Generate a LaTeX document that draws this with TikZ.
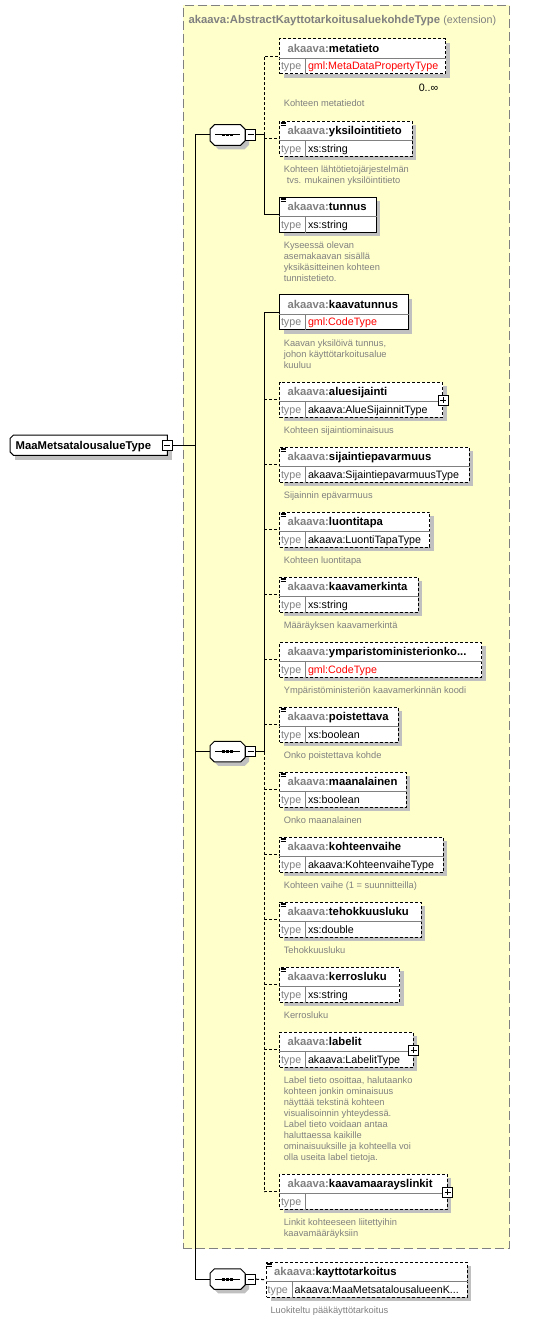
\documentclass[tikz,border=0pt]{standalone}
\usepackage{fontspec}
\setmainfont{Liberation Sans}
\usetikzlibrary{calc}

\definecolor{extyellow}{RGB}{255, 255, 204}
\definecolor{extgray}{RGB}{128, 128, 128}
\definecolor{nsgray}{RGB}{128, 128, 128}
\definecolor{descgray}{RGB}{128, 128, 128}
\definecolor{divgray}{RGB}{128, 128, 128}
\definecolor{shadowgray}{RGB}{192, 192, 192}
\definecolor{typered}{RGB}{255, 0, 0}

\tikzset{
  optbox/.style={rectangle, draw=black, fill=white, line width=1pt, dash pattern=on 3pt off 2pt, minimum height=35, inner sep=0pt, anchor=north west},
  reqbox/.style={optbox, solid},
  divline/.style={draw=divgray, line width=1pt},
  nametext/.style={anchor=base west, inner sep=0pt, font={\fontsize{11.3}{13}\selectfont\bfseries}},
  typetext/.style={anchor=base west, inner sep=0pt, font={\fontsize{10.7}{12.5}\selectfont}},
  desctext/.style={anchor=north west, inner sep=0pt, align=left, text=descgray, font={\fontsize{9.3}{11.05}\selectfont}},
  signbox/.style={rectangle, draw=black, fill=white, line width=1pt, minimum size=10, inner sep=0pt},
  signline/.style={line width=1pt},
  seqbox/.style={rectangle, minimum width=35, minimum height=20.5, inner sep=0pt},
  outline/.style={fill=white, draw=black, line width=1pt},
  mainbox/.style={rectangle, minimum width=157, minimum height=20, inner sep=0pt, anchor=north west},
  extbox/.style={rectangle, draw=extgray, fill=extyellow, line width=1pt, dash pattern=on 9pt off 4pt, inner sep=0pt, anchor=north west},
  reqline/.style={draw=black, line width=1pt},
  optline/.style={reqline, dash pattern=on 3pt off 2pt},
  iconline/.style={line width=0.7pt}
}

% element box: name, opt/req, top left, width, element, type
\newcommand{\elembox}[6]{%
  \fill[shadowgray] ($#3+(4.5,4.5)$) rectangle ($#3+(#4+4.5,39.5)$);
  \node[#2box, minimum width=#4] (#1) at #3 {};
  \draw[divline] ($(#1.north west)+(0,20)$) -- ($(#1.north east)+(0,20)$);
  \draw[divline] ($(#1.north west)+(26.5,20)$) -- ($(#1.south west)+(26.5,0)$);
  \node[nametext] (#1-name) at ($(#1.north west)+(8,14)$) {\textcolor{nsgray}{akaava:}#5};
  \node[typetext, text=nsgray] (#1-tlab) at ($(#1.north west)+(1.5,31.3)$) {type};
  \node[typetext] (#1-type) at ($(#1.north west)+(28.5,31.3)$) {#6};
}
% description under a box
\newcommand{\elemdesc}[3][7]{%
  \node[desctext] (#2-desc) at ($(#2.south west)+(4.3,#1)$) {\rule{0pt}{8.6pt}#3};
}
% simple content mark
\newcommand{\simpleicon}[1]{%
  \draw[iconline] ($(#1.north west)+(1.2,1.2)$) -- +(5,0);
  \draw[iconline] ($(#1.north west)+(1.2,2.8)$) -- +(5,0);
  \draw[iconline] ($(#1.north west)+(1.2,4.4)$) -- +(5,0);
}
% expand sign on the right edge
\newcommand{\plussign}[1]{%
  \node[signbox] (#1-plus) at ($(#1.east)+(0,0.5)$) {};
  \draw[signline] ($(#1-plus.center)+(-3,0)$) -- ($(#1-plus.center)+(3,0)$);
  \draw[signline] ($(#1-plus.center)+(0,-3)$) -- ($(#1-plus.center)+(0,3)$);
}
% sequence compositor
\newcommand{\seqsym}[2]{%
  \fill[shadowgray] ($#2+(4,4)$) +(-13.2,-10.25) -- +(13.2,-10.25) -- +(17.5,-5.95) -- +(17.5,5.95)
    -- +(13.2,10.25) -- +(-13.2,10.25) -- +(-17.5,5.95) -- +(-17.5,-5.95) -- cycle;
  \filldraw[outline] #2 +(-13.2,-10.25) -- +(13.2,-10.25) -- +(17.5,-5.95) -- +(17.5,5.95)
    -- +(13.2,10.25) -- +(-13.2,10.25) -- +(-17.5,5.95) -- +(-17.5,-5.95) -- cycle;
  \node[seqbox] (#1) at #2 {};
  \draw[signline] ($(#1.center)+(-12.5,0)$) -- ($(#1.center)+(12.5,0)$);
  \fill ($(#1.center)+(-5.2,-1.3)$) rectangle +(2.6,2.6);
  \fill ($(#1.center)+(-1.3,-1.3)$) rectangle +(2.6,2.6);
  \fill ($(#1.center)+(2.6,-1.3)$) rectangle +(2.6,2.6);
  \node[signbox, anchor=west] (#1-m) at (#1.east) {};
  \draw[signline] ($(#1-m.center)+(-3,0)$) -- ($(#1-m.center)+(3,0)$);
}

\begin{document}
\begin{tikzpicture}[x=1pt, y=-1pt]
  \useasboundingbox (0,0) rectangle (552,1319);
  \fill[white] (0,0) rectangle (552,1319);

  % Extension frame
  \node[extbox, minimum width=326.3, minimum height=1243.3] (ext) at (182.7,5) {};
  \node[nametext, text=nsgray] (ext-title) at (188.3,24) {akaava:AbstractKayttotarkoitusaluekohdeType {\mdseries\fontsize{10.7}{12.5}\selectfont(extension)}};

  % Complex type
  \fill[shadowgray] (14.5,439.5) rectangle (171.5,459.5);
  \node[mainbox] (maintype) at (10,435) {};
  \filldraw[outline] ($(maintype.north west)+(3.5,0)$) -- (maintype.north east) -- (maintype.south east)
    -- ($(maintype.south west)+(3.5,0)$) -- ($(maintype.south west)+(0,-3.5)$) -- ($(maintype.north west)+(0,3.5)$) -- cycle;
  \node[nametext] (maintype-name) at ($(maintype.north west)+(5.5,14)$) {MaaMetsatalousalueType};
  \node[signbox] (maintype-m) at (maintype.east) {};
  \draw[signline] ($(maintype-m.center)+(-3,0)$) -- ($(maintype-m.center)+(3,0)$);

  % Sequences
  \seqsym{seqA}{(227.5,135)}
  \seqsym{seqB}{(227.5,751.7)}
  \seqsym{seqC}{(227.5,1279.2)}

  % First sequence
  \elembox{metatieto}{opt}{(279.3,38.3)}{165.7}{metatieto}{\textcolor{typered}{gml:MetaDataPropertyType}}
  \node[typetext, anchor=base east] (metatieto-mult) at (438.5,91.5) {0..∞};
  \elemdesc[23.8]{metatieto}{Kohteen metatiedot}

  \elembox{yksilointitieto}{opt}{(279.3,120.7)}{132.4}{yksilointitieto}{xs:string}
  \simpleicon{yksilointitieto}
  \elemdesc{yksilointitieto}{Kohteen lähtötietojärjestelmän\\\hspace*{3pt}tvs. mukainen yksilöintitieto}

  \elembox{tunnus}{req}{(279.3,196.7)}{96.4}{tunnus}{xs:string}
  \simpleicon{tunnus}
  \elemdesc{tunnus}{Kyseessä olevan\\asemakaavan sisällä\\yksikäsitteinen kohteen\\tunnistetieto.}

  % Second sequence
  \elembox{kaavatunnus}{req}{(279.3,294.3)}{128.5}{kaavatunnus}{\textcolor{typered}{gml:CodeType}}
  \elemdesc{kaavatunnus}{Kaavan yksilöivä tunnus,\\johon käyttötarkoitusalue\\kuuluu}

  \elembox{aluesijainti}{opt}{(279.3,381.7)}{162.7}{aluesijainti}{akaava:AlueSijainnitType}
  \plussign{aluesijainti}
  \elemdesc{aluesijainti}{Kohteen sijaintiominaisuus}

  \elembox{sijaintiepavarmuus}{opt}{(279.3,446.7)}{189.2}{sijaintiepavarmuus}{akaava:SijaintiepavarmuusType}
  \simpleicon{sijaintiepavarmuus}
  \elemdesc{sijaintiepavarmuus}{Sijainnin epävarmuus}

  \elembox{luontitapa}{opt}{(279.3,511.7)}{150}{luontitapa}{akaava:LuontiTapaType}
  \simpleicon{luontitapa}
  \elemdesc{luontitapa}{Kohteen luontitapa}

  \elembox{kaavamerkinta}{opt}{(279.3,576.7)}{138.4}{kaavamerkinta}{xs:string}
  \simpleicon{kaavamerkinta}
  \elemdesc{kaavamerkinta}{Määräyksen kaavamerkintä}

  \elembox{ymparisto}{opt}{(279.3,641.7)}{201.7}{ymparistoministerionko...}{\textcolor{typered}{gml:CodeType}}
  \elemdesc{ymparisto}{Ympäristöministeriön kaavamerkinnän koodi}

  \elembox{poistettava}{opt}{(279.3,706.7)}{118.4}{poistettava}{xs:boolean}
  \simpleicon{poistettava}
  \elemdesc{poistettava}{Onko poistettava kohde}

  \elembox{maanalainen}{opt}{(279.3,771.7)}{126.4}{maanalainen}{xs:boolean}
  \simpleicon{maanalainen}
  \elemdesc{maanalainen}{Onko maanalainen}

  \elembox{kohteenvaihe}{opt}{(279.3,836.7)}{163.4}{kohteenvaihe}{akaava:KohteenvaiheType}
  \simpleicon{kohteenvaihe}
  \elemdesc{kohteenvaihe}{Kohteen vaihe (1 = suunnitteilla)}

  \elembox{tehokkuusluku}{opt}{(279.3,901.7)}{141.4}{tehokkuusluku}{xs:double}
  \simpleicon{tehokkuusluku}
  \elemdesc{tehokkuusluku}{Tehokkuusluku}

  \elembox{kerrosluku}{opt}{(279.3,966.7)}{119.7}{kerrosluku}{xs:string}
  \simpleicon{kerrosluku}
  \elemdesc{kerrosluku}{Kerrosluku}

  \elembox{labelit}{opt}{(279.3,1031.7)}{133.4}{labelit}{akaava:LabelitType}
  \plussign{labelit}
  \elemdesc{labelit}{Label tieto osoittaa, halutaanko\\kohteen jonkin ominaisuus\\näyttää tekstinä kohteen\\visualisoinnin yhteydessä.\\Label tieto voidaan antaa\\haluttaessa kaikille\\ominaisuuksille ja kohteella voi\\olla useita label tietoja.}

  \elembox{kaavamaarayslinkit}{opt}{(279.3,1173.7)}{167.4}{kaavamaarayslinkit}{}
  \plussign{kaavamaarayslinkit}
  \elemdesc{kaavamaarayslinkit}{Linkit kohteeseen liitettyihin\\kaavamääräyksiin}

  % Third sequence
  \elembox{kayttotarkoitus}{opt}{(266,1261.7)}{200.7}{kayttotarkoitus}{akaava:MaaMetsatalousalueenK...}
  \simpleicon{kayttotarkoitus}
  \elemdesc{kayttotarkoitus}{Luokiteltu pääkäyttötarkoitus}

  % Connectors
  \coordinate (trunkx) at (195.7,0);
  \coordinate (branchx) at (264,0);
  \draw[reqline] (maintype-m.east) -- (trunkx |- maintype-m.east);
  \draw[reqline] (seqA.west) -| (trunkx |- seqC.west) -- (seqC.west);
  \draw[reqline] (trunkx |- seqB.west) -- (seqB.west);

  \draw[reqline] (seqA-m.east) -- (branchx |- seqA-m.east);
  \draw[optline] (branchx |- seqA-m.east) |- (metatieto.west);
  \draw[optline] (branchx |- yksilointitieto.west) -- (yksilointitieto.west);
  \draw[reqline] (branchx |- seqA-m.east) |- (tunnus.west);

  \draw[reqline] (seqB-m.east) -- (branchx |- seqB-m.east);
  \draw[reqline] (branchx |- seqB-m.east) |- (kaavatunnus.west);
  \draw[optline] (branchx |- seqB-m.east) |- (kaavamaarayslinkit.west);
  \draw[optline] (branchx |- aluesijainti.west) -- (aluesijainti.west);
  \draw[optline] (branchx |- sijaintiepavarmuus.west) -- (sijaintiepavarmuus.west);
  \draw[optline] (branchx |- luontitapa.west) -- (luontitapa.west);
  \draw[optline] (branchx |- kaavamerkinta.west) -- (kaavamerkinta.west);
  \draw[optline] (branchx |- ymparisto.west) -- (ymparisto.west);
  \draw[optline] (branchx |- poistettava.west) -- (poistettava.west);
  \draw[optline] (branchx |- maanalainen.west) -- (maanalainen.west);
  \draw[optline] (branchx |- kohteenvaihe.west) -- (kohteenvaihe.west);
  \draw[optline] (branchx |- tehokkuusluku.west) -- (tehokkuusluku.west);
  \draw[optline] (branchx |- kerrosluku.west) -- (kerrosluku.west);
  \draw[optline] (branchx |- labelit.west) -- (labelit.west);

  \draw[optline] (seqC-m.east) -- (kayttotarkoitus.west);
\end{tikzpicture}
\end{document}
